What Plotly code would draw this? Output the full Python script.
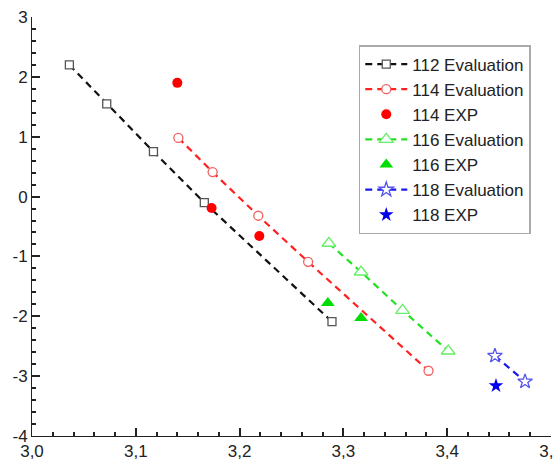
import plotly.graph_objects as go

# Evaluated and experimental values per mass number
x112_eval = [3.036, 3.072, 3.117, 3.166, 3.289]
y112_eval = [2.20, 1.55, 0.75, -0.10, -2.09]

x114_eval = [3.141, 3.174, 3.218, 3.266, 3.382]
y114_eval = [0.98, 0.41, -0.32, -1.09, -2.91]
x114_exp = [3.140, 3.173, 3.219]
y114_exp = [1.90, -0.19, -0.66]

x116_eval = [3.286, 3.317, 3.357, 3.401]
y116_eval = [-0.78, -1.26, -1.90, -2.58]
x116_exp = [3.285, 3.317]
y116_exp = [-1.78, -2.03]

x118_eval = [3.446, 3.475]
y118_eval = [-2.66, -3.09]
x118_exp = [3.447]
y118_exp = [-3.16]

x_ticks = [3.0, 3.1, 3.2, 3.3, 3.4, 3.5]
x_ticktext = ["3,0", "3,1", "3,2", "3,3", "3,4", "3,5"]
y_ticks = [-4, -3, -2, -1, 0, 1, 2, 3]
y_ticktext = ["-4", "-3", "-2", "-1", "0", "1", "2", "3"]

DASH = "7px,5px"
FONT = "Liberation Sans, Arial"
AXIS_COLOR = "#222222"
fig = go.Figure()


def eval_trace(x, y, name, line_color, marker_color, symbol, size):
    # white-filled marker so the dashed line stops at the symbol outline
    return go.Scatter(
        x=x, y=y, name=name, mode="lines+markers",
        line=dict(color=line_color, width=2.2, dash=DASH),
        marker=dict(symbol=symbol, size=size, color="white",
                    line=dict(color=marker_color, width=1.3)),
    )


def exp_trace(x, y, name, color, symbol, size):
    return go.Scatter(
        x=x, y=y, name=name, mode="markers",
        marker=dict(symbol=symbol, size=size, color=color, line=dict(width=0)),
    )


fig.add_trace(eval_trace(x112_eval, y112_eval, "112 Evaluation", "#111111", "#555555", "square", 8))
fig.add_trace(eval_trace(x114_eval, y114_eval, "114 Evaluation", "#ff2020", "#f06060", "circle", 9))
fig.add_trace(exp_trace(x114_exp, y114_exp, "114 EXP", "#ff0000", "circle", 10))
fig.add_trace(eval_trace(x116_eval, y116_eval, "116 Evaluation", "#22e022", "#66ee66", "triangle-up", 12))
fig.add_trace(exp_trace(x116_exp, y116_exp, "116 EXP", "#00dd00", "triangle-up", 12))
fig.add_trace(eval_trace(x118_eval, y118_eval, "118 Evaluation", "#1a1ae6", "#5555ee", "star", 11))
fig.add_trace(exp_trace(x118_exp, y118_exp, "118 EXP", "#0000ee", "star", 11))

fig.update_xaxes(
    range=[3.0, 3.5], tickvals=x_ticks, ticktext=x_ticktext,
    ticklabeloverflow="allow", layer="above traces",
    showline=True, linecolor=AXIS_COLOR,
    ticks="inside", ticklen=8, tickwidth=2, tickcolor=AXIS_COLOR,
    tickfont=dict(family=FONT, size=17, color="#222222"),
    minor=dict(ticks="inside", ticklen=4, tickcolor=AXIS_COLOR, dtick=0.02),
)
fig.update_yaxes(
    range=[-4, 3], tickvals=y_ticks, ticktext=y_ticktext,
    layer="above traces",
    showline=True, linecolor=AXIS_COLOR,
    ticks="inside", ticklen=8, tickwidth=2, tickcolor=AXIS_COLOR,
    tickfont=dict(family=FONT, size=17, color="#222222"),
    minor=dict(ticks="inside", ticklen=4, tickcolor=AXIS_COLOR, dtick=0.2),
)

fig.update_layout(
    width=554, height=461,
    margin=dict(l=32, r=3, t=17, b=25, autoexpand=False),
    plot_bgcolor="white",
    font=dict(family=FONT, color="#222222"),
    legend=dict(
        x=0.961, y=0.933, xanchor="right", yanchor="top",
        bordercolor="#aaaaaa", borderwidth=1.5, bgcolor="white",
        font=dict(family=FONT, size=17, color="#222222"),
        itemwidth=42, tracegroupgap=0,
    ),
    showlegend=True,
)

fig.write_html("out.html")
